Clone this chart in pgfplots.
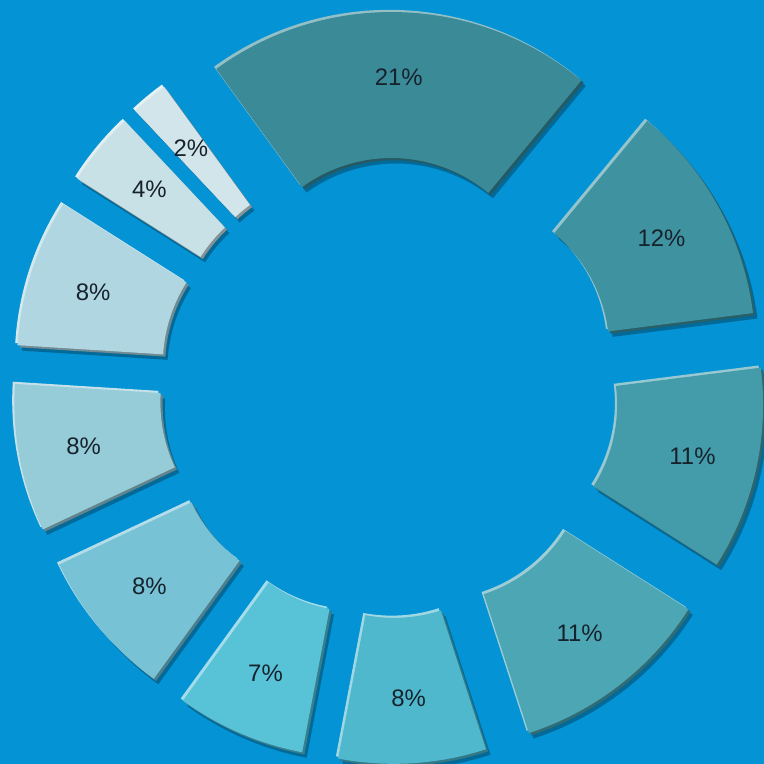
\documentclass[border=0pt]{standalone}
\usepackage{fontspec}
\setmainfont{Liberation Sans}
\usepackage{pgfplots}
\usepackage{pgfplotstable}
\pgfplotsset{compat=1.18}
\definecolor{bgblue}{RGB}{4,147,213}
\definecolor{lbltext}{RGB}{22,34,44}
\newcommand\lblfont{\fontsize{6.8}{8}\selectfont}
\pgfplotstableread{
pct r g b
21 58 138 152
12 63 147 160
11 68 155 170
11 76 166 180
8 80 184 204
7 88 194 215
8 120 194 214
8 150 203 216
8 176 214 225
4 200 225 231
2 210 229 234
}\donut
\begin{document}
\begin{tikzpicture}
\useasboundingbox (0,0) rectangle (7.64,7.64);
\begin{axis}[
  x=1cm, y=1cm,
  xmin=0, xmax=7.64, ymin=0, ymax=7.64,
  hide axis, clip=true,
  anchor=south west, at={(0,0)},
]
\fill[bgblue] (axis cs:0,0) rectangle (axis cs:7.64,7.64);
\xdef\cum{0}
\pgfplotsinvokeforeach{0,...,10}{
  \pgfplotstablegetelem{#1}{pct}\of\donut \let\segP\pgfplotsretval
  \pgfplotstablegetelem{#1}{r}\of\donut \let\segR\pgfplotsretval
  \pgfplotstablegetelem{#1}{g}\of\donut \let\segG\pgfplotsretval
  \pgfplotstablegetelem{#1}{b}\of\donut \let\segB\pgfplotsretval
  \xglobal\definecolor{seg#1}{RGB}{\segR,\segG,\segB}
  \pgfmathsetmacro\ts{-36+3.6*\cum}
  \pgfmathsetmacro\te{\ts+3.6*\segP}
  \pgfmathsetmacro\fs{90-\ts}
  \pgfmathsetmacro\fe{90-\te}
  \pgfmathsetmacro\fm{(\fs+\fe)/2}
  \pgfmathsetmacro\ax{3.89+0.78*cos(\fm)}
  \pgfmathsetmacro\ay{3.76+0.78*sin(\fm)}
  \pgfmathsetmacro\ox{\ax+2.98*cos(\fs)}
  \pgfmathsetmacro\oy{\ay+2.98*sin(\fs)}
  \pgfmathsetmacro\ix{\ax+1.52*cos(\fe)}
  \pgfmathsetmacro\iy{\ay+1.52*sin(\fe)}
  \pgfmathsetmacro\lx{\ax+2.33*cos(\fm)}
  \pgfmathsetmacro\ly{\ay+2.33*sin(\fm)}
  \pgfmathsetmacro\cumnew{\cum+\segP}
  \xdef\cum{\cumnew}
  \edef\segpath{(axis cs:\ox,\oy) arc[start angle=\fs, end angle=\fe, radius=2.98] -- (axis cs:\ix,\iy) arc[start angle=\fe, end angle=\fs, radius=1.52] -- cycle}
  \edef\temp{%
    \noexpand\fill[black, opacity=0.28, shift={(0.045,-0.055)}] \segpath;
    \noexpand\fill[seg#1!55!white, shift={(-0.022,0.022)}] \segpath;
    \noexpand\fill[seg#1!65!black, shift={(0.022,-0.022)}] \segpath;
    \noexpand\fill[seg#1] \segpath;
    \noexpand\node[font=\noexpand\lblfont, text=lbltext] at (axis cs:\lx,\ly) {\segP\noexpand\%};
  }
  \temp
}
\end{axis}
\end{tikzpicture}
\end{document}
